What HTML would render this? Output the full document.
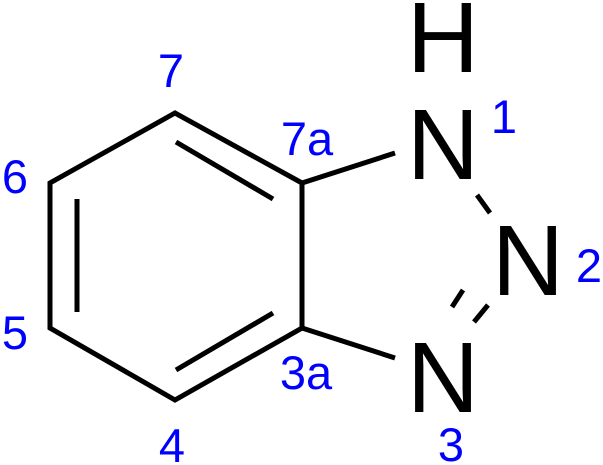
<!DOCTYPE html>
<html><head><meta charset="utf-8"><style>
html,body{margin:0;padding:0;background:#fff;}
svg{display:block;}
text{font-family:"Liberation Sans",Arial,sans-serif;}
</style></head><body>
<svg width="603" height="465" viewBox="0 0 603 465" xmlns="http://www.w3.org/2000/svg">
<g stroke="#000" stroke-width="5" fill="none" stroke-linecap="butt" stroke-linejoin="miter">
<polyline points="302,183 175,113 50,183 50,328 175,400 302,328 302,183"/>
<line x1="176" y1="142" x2="273" y2="199"/>
<line x1="77" y1="199" x2="77" y2="312"/>
<line x1="176" y1="370" x2="273" y2="313"/>
<line x1="302" y1="183" x2="395" y2="153"/>
<line x1="302" y1="328" x2="395" y2="358"/>
<line x1="477" y1="195" x2="490" y2="213"/>
<line x1="463" y1="290" x2="452" y2="307"/>
<line x1="488" y1="305" x2="474" y2="322"/>
</g>
<g fill="#000" font-size="100">
<text x="443" y="72" text-anchor="middle">H</text>
<text x="443" y="179" text-anchor="middle">N</text>
<text x="528" y="295" text-anchor="middle">N</text>
<text x="443" y="412" text-anchor="middle">N</text>
</g>
<g fill="#0000ff" font-size="47">
<text x="171" y="87" text-anchor="middle">7</text>
<text x="307" y="155" text-anchor="middle">7a</text>
<text x="15" y="193" text-anchor="middle">6</text>
<text x="15" y="349" text-anchor="middle">5</text>
<text x="172" y="462" text-anchor="middle">4</text>
<text x="306" y="389" text-anchor="middle">3a</text>
<text x="451" y="461" text-anchor="middle">3</text>
<text x="504" y="133" text-anchor="middle">1</text>
<text x="589" y="282" text-anchor="middle">2</text>
</g>
</svg>
</body></html>
